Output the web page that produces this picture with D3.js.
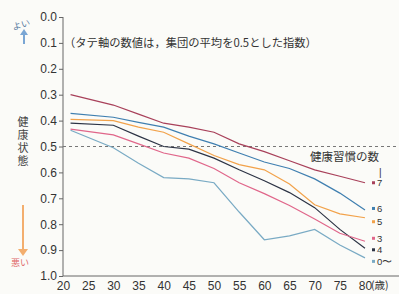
<!DOCTYPE html>
<html>
<head>
<meta charset="utf-8">
<script src="https://cdn.jsdelivr.net/npm/d3@7/dist/d3.min.js"></script>
<style>
  body { margin: 0; background: #fbfbf8; }
  svg { display: block; font-family: "Liberation Sans", Arial, sans-serif; }
  .jp { font-family: "Noto Sans CJK JP", sans-serif; }
  .axis text { font-size: 12px; fill: #333; }
  .axis path, .axis line { stroke: #666; }
</style>
</head>
<body>
<svg id="chart" width="399" height="294"></svg>
<script>
// ages along the x axis
const ages = [21.5, 30, 35, 40, 45, 50, 55, 60, 65, 70, 75, 80];
// health index per number of healthy habits (0.5 = group average)
const habits7 = [0.30, 0.34, 0.375, 0.41, 0.425, 0.445, 0.49, 0.52, 0.555, 0.59, 0.615, 0.64];
const habits6 = [0.372, 0.387, 0.407, 0.425, 0.46, 0.49, 0.525, 0.56, 0.585, 0.625, 0.68, 0.745];
const habits5 = [0.395, 0.40, 0.425, 0.445, 0.49, 0.535, 0.57, 0.59, 0.645, 0.725, 0.76, 0.775];
const habits4 = [0.41, 0.418, 0.46, 0.50, 0.51, 0.545, 0.59, 0.632, 0.678, 0.736, 0.82, 0.893];
const habits3 = [0.433, 0.455, 0.49, 0.525, 0.545, 0.585, 0.64, 0.682, 0.728, 0.78, 0.835, 0.866];
const habits0 = [0.437, 0.505, 0.565, 0.62, 0.625, 0.64, 0.753, 0.86, 0.845, 0.82, 0.88, 0.93];
const seriesLabels = ['7', '6', '5', '4', '3', '0〜'];
const yTicks = [0, 0.1, 0.2, 0.3, 0.4, 0.5, 0.6, 0.7, 0.8, 0.9, 1.0];
const xTicks = [20, 25, 30, 35, 40, 45, 50, 55, 60, 65, 70, 75, 80];

const width = 399;
const height = 294;
const colors = ['#a8405a', '#3f7fb0', '#f2a24a', '#2c3344', '#e0668a', '#79aac4'];
// small nudges so the end labels don't sit on top of each other
const labelNudge = {'6': -1.5, '5': 4, '4': 1.5, '3': -3, '0〜': 3.5};

const svg = d3.select('#chart');

const x = d3.scaleLinear().domain([20, 80]).range([63, 365]);
const y = d3.scaleLinear().domain([0, 1]).range([17, 276]);

// y axis
svg.append('g')
  .attr('class', 'axis')
  .attr('transform', 'translate(63,0)')
  .call(d3.axisLeft(y).tickValues(yTicks).tickFormat(d3.format('.1f')).tickSize(4).tickPadding(2))
  .call(g => g.select('.domain').attr('d', `M0,${y(0)}V${y(1)}`));

// x axis
svg.append('g')
  .attr('class', 'axis')
  .attr('transform', `translate(0,${y(1)})`)
  .call(d3.axisBottom(x).tickValues(xTicks).tickSize(0).tickPadding(5))
  .call(g => g.select('.domain').attr('d', `M${x(20)},0H${width}`));

svg.append('text')
  .attr('class', 'jp')
  .attr('x', 371)
  .attr('y', 289)
  .style('font-size', '10.5px')
  .style('fill', '#333')
  .text('(歳)');

// average line
svg.append('line')
  .attr('x1', x(20)).attr('x2', width)
  .attr('y1', y(0.5)).attr('y2', y(0.5))
  .attr('stroke', '#777')
  .attr('stroke-dasharray', '3,3');

// note
svg.append('text')
  .attr('class', 'jp')
  .attr('x', 64)
  .attr('y', y(0.1) + 4)
  .style('font-size', '11.3px')
  .style('fill', '#333')
  .text('（タテ軸の数値は，集団の平均を0.5とした指数）');

// lines
const allSeries = [habits7, habits6, habits5, habits4, habits3, habits0];
const line = d3.line()
  .x((d, i) => x(ages[i]))
  .y(d => y(d));

svg.append('g')
  .selectAll('path')
  .data(allSeries)
  .enter()
  .append('path')
    .attr('d', d => line(d))
    .attr('fill', 'none')
    .attr('stroke', (d, i) => colors[i])
    .attr('stroke-width', 1.2);

// legend
svg.append('text')
  .attr('class', 'jp')
  .attr('x', 310)
  .attr('y', y(0.5) + 14)
  .style('font-size', '11.5px')
  .style('fill', '#333')
  .text('健康習慣の数');

svg.append('text')
  .attr('x', 379)
  .attr('y', y(habits7[habits7.length - 1]) - 7)
  .style('font-size', '10px')
  .style('fill', '#333')
  .text('|');

let legendGroup = svg.append('g')
  .selectAll('g')
  .data(allSeries)
  .enter()
  .append('g')
    .attr('transform', (d, i) => {
      const nudge = labelNudge[seriesLabels[i]] || 0;
      return `translate(0,${y(d[d.length - 1]) + nudge})`;
    });

legendGroup.append('rect')
  .attr('x', 372)
  .attr('y', -1.5)
  .attr('width', 3)
  .attr('height', 3)
  .attr('fill', (d, i) => colors[i]);

legendGroup.append('text')
  .attr('x', 377)
  .attr('y', 3.5)
  .style('font-size', '9.5px')
  .style('fill', '#333')
  .text((d, i) => seriesLabels[i]);

// side labels
svg.append('text')
  .attr('class', 'jp')
  .attr('x', 21)
  .attr('y', 28)
  .attr('text-anchor', 'middle')
  .attr('transform', 'rotate(-15,21,24)')
  .style('font-size', '9px')
  .style('fill', '#5c7fa3')
  .text('よい');

svg.append('line')
  .attr('x1', 24).attr('x2', 24)
  .attr('y1', 44).attr('y2', 33)
  .attr('stroke', '#7aa6d4')
  .attr('stroke-width', 2);
svg.append('path')
  .attr('d', 'M20,35L24,29L28,35Z')
  .attr('fill', '#7aa6d4');

svg.append('text')
  .attr('class', 'jp')
  .attr('x', 23)
  .attr('y', 116)
  .style('font-size', '11px')
  .style('fill', '#444')
  .style('writing-mode', 'vertical-rl')
  .style('letter-spacing', '2px')
  .text('健康状態');

svg.append('line')
  .attr('x1', 23).attr('x2', 23)
  .attr('y1', 205).attr('y2', 250)
  .attr('stroke', '#f3ae6e')
  .attr('stroke-width', 2);
svg.append('path')
  .attr('d', 'M18,249L23,256L28,249Z')
  .attr('fill', '#f3ae6e');

svg.append('text')
  .attr('class', 'jp')
  .attr('x', 20)
  .attr('y', 266)
  .attr('text-anchor', 'middle')
  .style('font-size', '9px')
  .style('fill', '#e06a6a')
  .text('悪い');
</script>
</body>
</html>
